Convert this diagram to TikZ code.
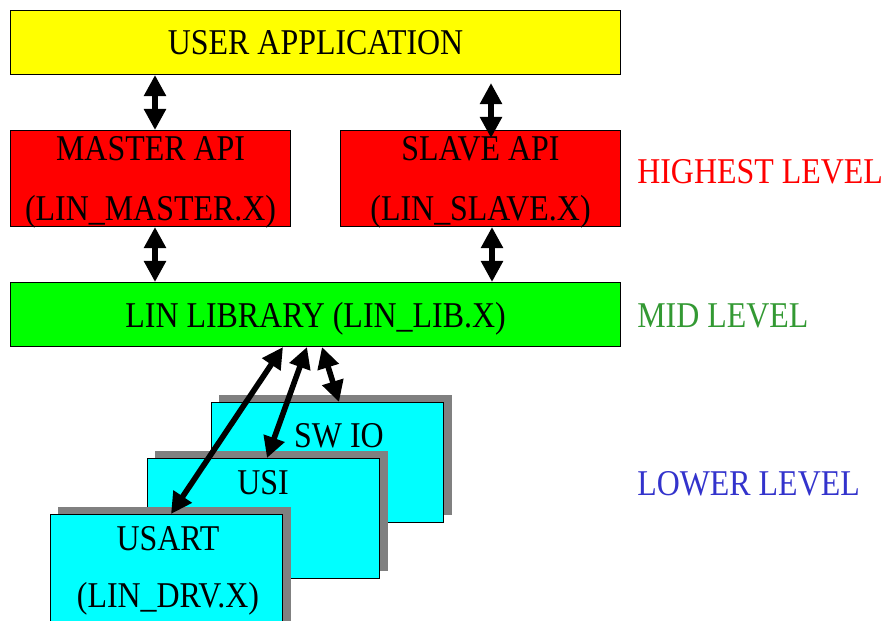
\documentclass[tikz,border=0pt]{standalone}
\usepackage{fontspec}
\setmainfont{Liberation Serif}[FakeStretch=0.88]
\usetikzlibrary{arrows.meta,shadows}
\definecolor{appyellow}{HTML}{FFFF00}
\definecolor{apired}{HTML}{FF0000}
\definecolor{libgreen}{HTML}{00FF00}
\definecolor{drvcyan}{HTML}{00FFFF}
\definecolor{midgreen}{HTML}{339933}
\definecolor{lowblue}{HTML}{3333CC}
\tikzset{
  layer/.style={draw, line width=0.7pt, anchor=north west, inner sep=0pt, align=center, text depth=0pt},
  drv/.style={layer, fill=drvcyan, minimum width=5.8cm, minimum height=3cm,
    drop shadow={shadow xshift=0.2cm, shadow yshift=0.2cm, fill=gray, opacity=1}},
  link/.style={line width=4pt, {Triangle[length=15pt,width=15pt]}-{Triangle[length=15pt,width=15pt]}},
  lvl/.style={anchor=west, inner sep=0pt}
}
\begin{document}
\begin{tikzpicture}[x=0.025cm, y=-0.025cm, font=\fontsize{25.8}{42}\selectfont]
\useasboundingbox (0,0) rectangle (885,620);
% top and mid level
\node[layer, fill=appyellow, minimum width=15.25cm, minimum height=1.6cm] (app) at (10,10) {USER APPLICATION};
\node[layer, fill=apired, minimum width=7cm, minimum height=2.4cm] (master) at (10,130) {MASTER API\\(LIN\_MASTER.X)};
\node[layer, fill=apired, minimum width=7cm, minimum height=2.4cm] (slave) at (340,130) {SLAVE API\\(LIN\_SLAVE.X)};
\node[layer, fill=libgreen, minimum width=15.25cm, minimum height=1.6cm] (lib) at (10,282) {LIN LIBRARY (LIN\_LIB.X)};
% drivers, back to front
\node[drv] (swio) at (211,402) {};
\node (swiotxt) at (339,436) {SW IO};
\node[drv] (usi) at (147,458) {};
\node (usitxt) at (263,483) {USI};
\node[drv] (usart) at (50,514) {};
\node[align=center, font=\fontsize{25.8}{40.5}\selectfont] (usarttxt) at (168,571) {USART\\(LIN\_DRV.X)};
% levels
\node[lvl, text=apired] (hi) at (637,172) {HIGHEST LEVEL};
\node[lvl, text=midgreen] (mid) at (637,316) {MID LEVEL};
\node[lvl, text=lowblue] (low) at (637,484) {LOWER LEVEL};
% links
\draw[link] (app.south -| 155,0) -- (master.north -| 155,0);
\draw[link, shorten <=0.2cm, shorten >=-0.2cm] (app.south -| 491,0) -- (slave.north -| 491,0);
\foreach \x in {155,492} \draw[link] (master.south -| \x,0) -- (lib.north -| \x,0);
\foreach \a/\b/\n in {283/171/usart,307/267/usi,322/339/swio}
  \draw[link] (lib.south -| \a,0) -- (\n.north -| \b,0);
\end{tikzpicture}
\end{document}
